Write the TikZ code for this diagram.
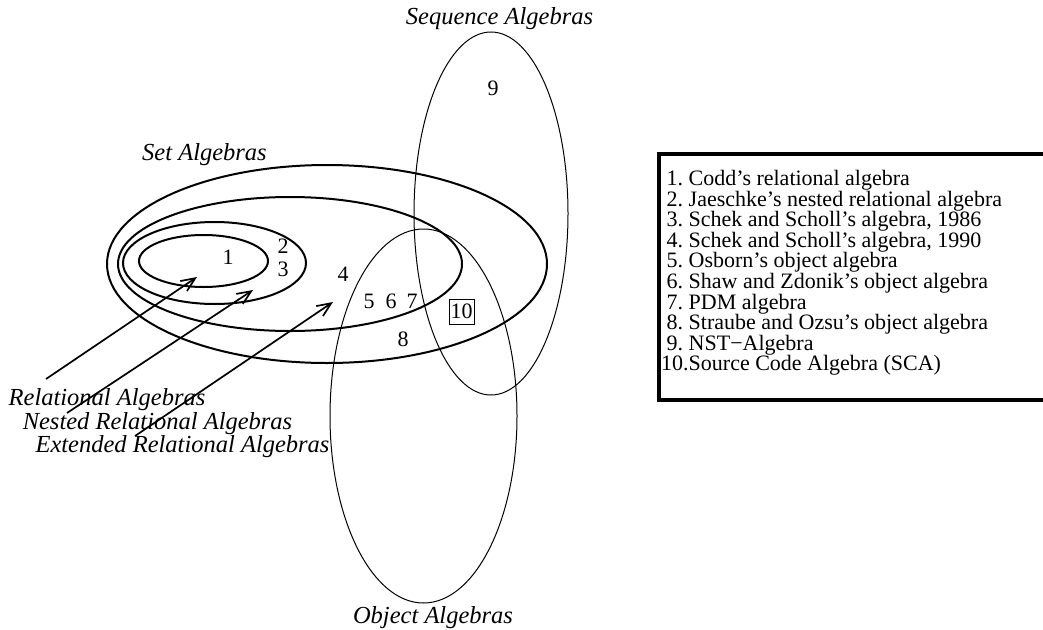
\documentclass[tikz,border=0pt]{standalone}
\usepackage{fontspec}
\setmainfont{Liberation Serif}
\usetikzlibrary{arrows.meta}
\frenchspacing
\newcommand{\lblfont}{\fontsize{24.5}{26}\selectfont\itshape}
\newcommand{\numfont}{\fontsize{22}{22}\selectfont}

\begin{document}
\begin{tikzpicture}[x=1pt, y=-1pt,
    thickline/.style={line width=2pt},
    thinline/.style={line width=1pt},
    pointer/.style={line width=1.7pt, -{Straight Barb[length=14pt, width=12pt]}},
    algname/.style={font=\lblfont, inner sep=0pt},
    num/.style={font=\numfont, inner sep=0pt}]
    \useasboundingbox (0,0) rectangle (1043,629);

    % Set algebras and the relational ones inside
    \draw[thickline] (327,264) ellipse [x radius=220, y radius=99];
    \draw[thickline] (290,264) ellipse [x radius=172, y radius=67];
    \draw[thickline] (214.5,263) ellipse [x radius=91.5, y radius=41];
    \draw[thickline] (203.5,261) ellipse [x radius=64.5, y radius=26];

    % Sequence and object algebras
    \draw[thinline] (491,213.5) ellipse [x radius=77, y radius=181.5];
    \draw[thinline] (423.5,416) ellipse [x radius=93.5, y radius=187];

    % Numbers
    \node[num] (n1) at (228,257) {1};
    \node[num] (n2) at (283,246) {2};
    \node[num] (n3) at (283,269) {3};
    \node[num] (n4) at (343,274) {4};
    \node[num] (n5) at (369,301) {5};
    \node[num] (n6) at (391,301) {6};
    \node[num] (n7) at (412,301) {7};
    \node[num] (n8) at (403,339) {8};
    \node[num] (n9) at (493,88) {9};
    \node[num, draw, line width=0.8pt, minimum width=25, minimum height=25] (n10) at (461.5,311.5) {10};

    % Names of the algebra classes
    \node[algname] (seqname) at (499.5,19) {Sequence Algebras};
    \node[algname] (setname) at (204.5,154.5) {Set Algebras};
    \node[algname] (objname) at (433,618) {Object Algebras};
    \node[algname] (relname) at (107,400) {Relational Algebras};
    \node[algname] (nestname) at (157.5,424) {Nested Relational Algebras};
    \node[algname] (extname) at (182.5,447) {Extended Relational Algebras};

    % Pointers into the ellipses
    \coordinate (reltail) at (46,379);
    \coordinate (reltip) at (197,277);
    \coordinate (nesttail) at (67,413);
    \coordinate (nesttip) at (253,290);
    \coordinate (exttail) at (135,436);
    \coordinate (exttip) at (333,302);
    \draw[pointer] (reltail) -- (reltip);
    \draw[pointer] (nesttail) -- (nesttip);
    \draw[pointer] (exttail) -- (exttip);

    % Legend
    \draw[line width=4pt] (659,154) rectangle (1060,400);
    \node[anchor=north west, inner sep=0pt, align=left, font=\fontsize{22}{20.6}\selectfont] (legend) at (661,170)
        {~1. Codd's relational algebra\\
         ~2. Jaeschke's nested relational algebra\\
         ~3. Schek and Scholl's algebra, 1986\\
         ~4. Schek and Scholl's algebra, 1990\\
         ~5. Osborn's object algebra\\
         ~6. Shaw and Zdonik's object algebra\\
         ~7. PDM algebra\\
         ~8. Straube and Ozsu's object algebra\\
         ~9. NST−Algebra\\
         10.Source Code Algebra (SCA)};
\end{tikzpicture}
\end{document}
